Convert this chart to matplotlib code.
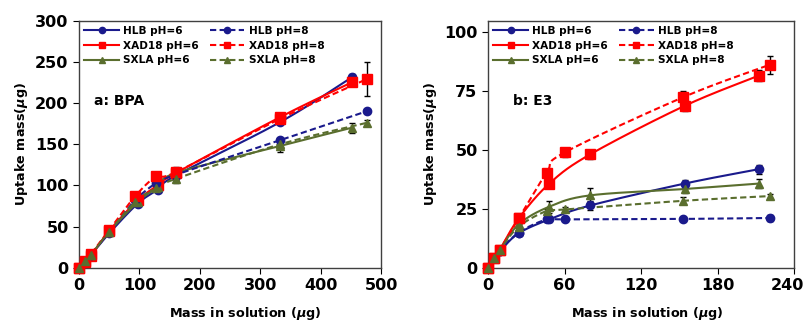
import numpy as np
import matplotlib
matplotlib.use('Agg')
import matplotlib.pyplot as plt
from matplotlib.transforms import ScaledTranslation

plt.rcParams['font.family'] = ['DejaVu Sans']
plt.rcParams['font.weight'] = 'bold'
plt.rcParams['mathtext.default'] = 'it'

# ---- a: BPA ----
bpa_x6 = [0, 10, 20, 50, 97, 130, 160, 333, 451]
bpa_x8 = [0, 10, 20, 50, 93, 128, 160, 333, 476]
bpa_hlb6 = [0, 8, 16, 42, 78, 95, 112, 177, 231]
bpa_hlb8 = [0, 8, 16, 44, 82, 103, 113, 155, 190]
bpa_xad6 = [0, 7, 15, 45, 82, 100, 115, 183, 225]
bpa_xad8 = [0, 8, 17, 46, 87, 111, 116, 181, 229]
bpa_sxla6 = [0, 8, 16, 44, 80, 98, 115, 148, 170]
bpa_sxla8 = [0, 8, 16, 44, 80, 97, 108, 150, 176]
bpa_err_hlb6 = [0, 1, 1, 2, 3, 3, 3, 3, 4]
bpa_err_hlb8 = [0, 1, 1, 2, 3, 3, 3, 2, 2]
bpa_err_xad6 = [0, 1, 1, 2, 3, 3, 4, 4, 4]
bpa_err_xad8 = [0, 1, 1, 2, 3, 3, 4, 3, 21]
bpa_err_sxla6 = [0, 1, 1, 2, 3, 5, 8, 7, 6]
bpa_err_sxla8 = [0, 1, 1, 2, 3, 4, 5, 4, 4]

# ---- b: E3 ----
e3_x6 = [0, 5, 9, 24, 48, 80, 154, 212]
e3_x8 = [0, 5, 9, 24, 46, 60, 153, 221]
e3_hlb6 = [0, 4, 7, 14.7, 20.6, 26.5, 35.8, 41.9]
e3_hlb8 = [0, 4, 7, 15, 20.6, 20.6, 20.8, 21.2]
e3_xad6 = [0, 4, 7.5, 21, 35.8, 48.2, 68.8, 81.6]
e3_xad8 = [0, 4, 7.5, 21, 40.5, 49, 72.5, 86.3]
e3_sxla6 = [0, 4, 7.5, 18.5, 26, 30.8, 33.5, 35.8]
e3_sxla8 = [0, 4, 7.5, 17.5, 24.2, 24.8, 28.5, 30.5]
e3_err_hlb6 = [0, 0.5, 0.5, 0.8, 1, 2, 1.5, 2]
e3_err_hlb8 = [0, 0.5, 0.5, 0.8, 1, 0.8, 1, 1.3]
e3_err_xad6 = [0, 0.5, 0.5, 1, 1, 2, 2, 2.3]
e3_err_xad8 = [0, 0.5, 0.5, 1, 1.5, 2, 2.5, 3.8]
e3_err_sxla6 = [0, 0.5, 0.5, 1, 2.5, 3, 1.5, 1.8]
e3_err_sxla8 = [0, 0.5, 0.5, 1, 1, 1, 1.5, 1]

NAVY = '#1a1a8c'
RED = '#ff0000'
OLIVE = '#5a6e2e'


def smooth(x, y, n=24):
    # Catmull-Rom curve through the points (like an Excel smoothed line)
    x = np.asarray(x, float)
    y = np.asarray(y, float)
    px, py = [], []
    for i in range(len(x) - 1):
        i0 = max(i - 1, 0)
        i3 = min(i + 2, len(x) - 1)
        t = np.linspace(0, 1, n, endpoint=False)
        for arr, out in ((x, px), (y, py)):
            p0, p1, p2, p3 = arr[i0], arr[i], arr[i + 1], arr[i3]
            c = 0.5 * ((2 * p1) + (-p0 + p2) * t + (2 * p0 - 5 * p1 + 4 * p2 - p3) * t ** 2
                       + (-p0 + 3 * p1 - 3 * p2 + p3) * t ** 3)
            out.extend(c)
    px.append(x[-1])
    py.append(y[-1])
    return px, py


def draw(ax, x, y, err, color, marker, ms, dashed, label):
    ls = (0, (3, 1.6)) if dashed else '-'
    sx, sy = smooth(x, y)
    ax.errorbar(x, y, yerr=err, fmt='none', ecolor='black', elinewidth=1, capsize=2.5, capthick=1, zorder=2)
    ax.plot(sx, sy, color=color, lw=1.5, ls=ls, zorder=3)
    ax.plot(x, y, ls='none', marker=marker, ms=ms, color=color, zorder=4, clip_on=False)
    # legend proxy
    return ax.plot([], [], color=color, lw=1.5, ls=ls, marker=marker, ms=ms - 1.5, label=label)[0]


fig = plt.figure(figsize=(8.06, 3.22), dpi=100)
ax1 = fig.add_axes([0.098, 0.168, 0.375, 0.768])
ax2 = fig.add_axes([0.6055, 0.168, 0.380, 0.768])

sets = [
    (ax1, bpa_x6, bpa_x8,
     [bpa_hlb6, bpa_xad6, bpa_sxla6], [bpa_hlb8, bpa_xad8, bpa_sxla8],
     [bpa_err_hlb6, bpa_err_xad6, bpa_err_sxla6], [bpa_err_hlb8, bpa_err_xad8, bpa_err_sxla8]),
    (ax2, e3_x6, e3_x8,
     [e3_hlb6, e3_xad6, e3_sxla6], [e3_hlb8, e3_xad8, e3_sxla8],
     [e3_err_hlb6, e3_err_xad6, e3_err_sxla6], [e3_err_hlb8, e3_err_xad8, e3_err_sxla8]),
]
names = ['HLB', 'XAD18', 'SXLA']
colors = [NAVY, RED, OLIVE]
markers = ['o', 's', '^']
sizes = [6, 6.5, 6]

for ax, x6, x8, ys6, ys8, es6, es8 in sets:
    h6, h8 = [], []
    for k in range(3):
        h6.append(draw(ax, x6, ys6[k], es6[k], colors[k], markers[k], sizes[k], False, names[k] + ' pH=6'))
    for k in range(3):
        h8.append(draw(ax, x8, ys8[k], es8[k], colors[k], markers[k], sizes[k], True, names[k] + ' pH=8'))
    ax.legend(handles=h6 + h8, ncol=2, loc='upper left', frameon=False,
              handlelength=3.3, columnspacing=1.0, labelspacing=0.45, borderaxespad=0.3,
              borderpad=0.2, handletextpad=0.4, prop={'weight': 'bold', 'size': 7.6})
    ax.tick_params(labelsize=11.5, length=4)
    ax.set_ylabel('Uptake mass($\\mu$g)', fontsize=9.2, fontweight='bold', labelpad=4)
    ax.set_xlabel('Mass in solution ($\\mu$g)', fontsize=9.2, fontweight='bold')
    for s in ax.spines.values():
        s.set_color('#404040')
        s.set_linewidth(1)

ax1.set_xlim(0, 500)
ax1.set_ylim(0, 300)
ax1.set_xticks([0, 100, 200, 300, 400, 500])
ax1.set_yticks([0, 50, 100, 150, 200, 250, 300])
ax1.text(0.05, 0.66, 'a: BPA', transform=ax1.transAxes, fontsize=10, fontweight='bold')
ax1.xaxis.set_label_coords(0.55, -0.15)

ax2.set_xlim(0, 240)
ax2.set_ylim(0, 105)
ax2.set_xticks([0, 60, 120, 180, 240])
ax2.set_yticks([0, 25, 50, 75, 100])
ax2.text(0.082, 0.66, 'b: E3', transform=ax2.transAxes, fontsize=10, fontweight='bold')
ax2.xaxis.set_label_coords(0.52, -0.15)

# keep the last tick label inside the figure
last = ax2.get_xticklabels()[-1]
last.set_ha('right')
last.set_transform(last.get_transform() + ScaledTranslation(10 / 100, 0, fig.dpi_scale_trans))

fig.savefig('out.png', dpi=100)
